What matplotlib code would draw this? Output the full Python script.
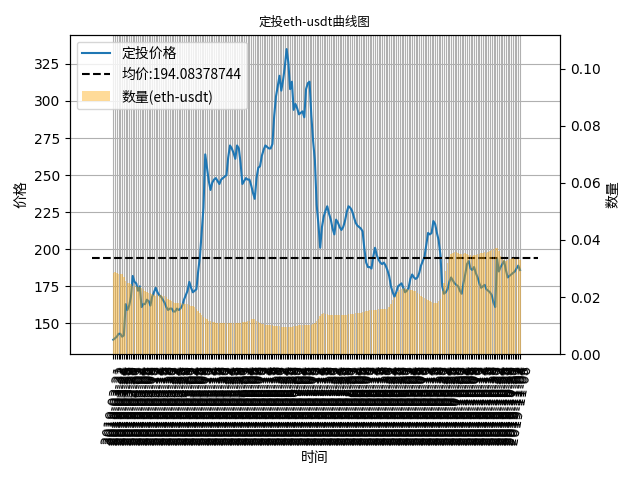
import matplotlib
matplotlib.use("Agg")
import matplotlib.pyplot as plt
import pandas as pd

plt.rcParams['font.family'] = ['DejaVu Sans']
CJK = ['Noto Sans CJK SC', 'DejaVu Sans']

# ---- data ----
dates = pd.date_range('2019-03-21', periods=231, freq='D').strftime('%Y-%m-%d').tolist()

prices = [
    139, 140, 141, 143, 143, 141, 142, 163, 159, 162,
    168, 182, 178, 177, 172, 175, 161, 163, 163, 166,
    165, 162, 168, 171, 174, 171, 169, 168, 166, 164,
    161, 159, 160, 160, 158, 158, 160, 159, 160, 162,
    166, 169, 172, 178, 174, 171, 172, 173, 185, 195,
    212, 228, 264, 255, 246, 240, 245, 247, 248, 246,
    244, 247, 248, 249, 250, 262, 270, 268, 265, 261,
    270, 268, 258, 244, 246, 248, 247, 247, 243, 238,
    234, 248, 255, 256, 263, 267, 270, 269, 268, 268,
    271, 290, 303, 310, 317, 307, 314, 323, 335, 326,
    308, 313, 294, 298, 295, 291, 292, 293, 289, 308,
    312, 313, 290, 273, 260, 230, 217, 201, 215, 222,
    226, 229, 224, 220, 214, 210, 220, 218, 215, 213,
    215, 219, 225, 229, 228, 226, 222, 218, 216, 215,
    214, 212, 200, 191, 188, 188, 187, 195, 201, 196,
    193, 191, 190, 191, 189, 186, 182, 175, 171, 168,
    171, 175, 176, 177, 174, 171, 172, 174, 180, 183,
    181, 180, 181, 184, 189, 192, 195, 203, 211, 210,
    211, 219, 217, 211, 206, 196, 175, 170, 171, 173,
    178, 181, 179, 177, 176, 175, 172, 170, 177, 183,
    190, 192, 187, 186, 188, 184, 181, 177, 174, 175,
    176, 173, 172, 171, 169, 164, 161, 194, 185, 188,
    190, 192, 186, 181, 182, 183, 184, 185, 187, 189,
    186,
]

quantities = [
    .0285, .0288, .0286, .0282, .0280, .0281, .0270, .0255, .0250, .0248,
    .0245, .0240, .0240, .0238, .0236, .0235, .0232, .0228, .0222, .0218,
    .0215, .0214, .0212, .0208, .0205, .0206, .0208, .0207, .0205, .0203,
    .0200, .0195, .0190, .0186, .0183, .0181, .0180, .0179, .0178, .0178,
    .0177, .0176, .0175, .0172, .0170, .0168, .0165, .0160, .0152, .0145,
    .0138, .0132, .0128, .0122, .0118, .0116, .0113, .0112, .0111, .0111,
    .0110, .0110, .0111, .0111, .0110, .0109, .0108, .0108, .0109, .0109,
    .0108, .0108, .0110, .0112, .0113, .0114, .0115, .0118, .0122, .0124,
    .0122, .0118, .0114, .0110, .0107, .0105, .0104, .0103, .0103, .0102,
    .0101, .0100, .0099, .0098, .0098, .0097, .0097, .0096, .0096, .0096,
    .0097, .0097, .0098, .0099, .0100, .0101, .0102, .0102, .0102, .0101,
    .0101, .0102, .0104, .0106, .0110, .0116, .0125, .0133, .0140, .0146,
    .0142, .0140, .0139, .0138, .0137, .0137, .0138, .0137, .0136, .0136,
    .0137, .0138, .0139, .0140, .0141, .0142, .0142, .0143, .0143, .0144,
    .0145, .0147, .0149, .0151, .0153, .0154, .0155, .0155, .0156, .0156,
    .0157, .0157, .0158, .0158, .0159, .0160, .0165, .0175, .0190, .0200,
    .0210, .0218, .0225, .0230, .0232, .0230, .0228, .0226, .0225, .0224,
    .0222, .0220, .0215, .0210, .0205, .0200, .0198, .0195, .0190, .0185,
    .0182, .0180, .0178, .0180, .0185, .0195, .0220, .0250, .0290, .0320,
    .0340, .0350, .0355, .0358, .0357, .0355, .0352, .0350, .0352, .0355,
    .0352, .0348, .0346, .0345, .0346, .0348, .0350, .0352, .0355, .0356,
    .0357, .0356, .0358, .0362, .0366, .0370, .0373, .0371, .0360, .0345,
    .0335, .0330, .0328, .0330, .0332, .0335, .0336, .0335, .0333, .0332,
    .0330,
]

avg_price = 194.08378744

n = len(prices)
xs = list(range(n))

fig = plt.figure(figsize=(6.4, 4.8), dpi=100)
ax1 = fig.add_subplot(111)
fig.subplots_adjust(left=0.109, right=0.875, top=0.928, bottom=0.262)

l1, = ax1.plot(xs, prices, color='#1f77b4', label='定投价格')
l2 = ax1.hlines(avg_price, -12, n - 1 + 10, colors='black', linestyles='--',
                label='均价:%s' % avg_price)
ax1.set_ylabel('价格', family=CJK, fontsize=10)
ax1.set_xlabel('时间', family=CJK, fontsize=10)
ax1.set_xticks(xs)
ax1.set_xticklabels(dates, rotation=80)
ax1.grid(True)

ax2 = ax1.twinx()
b = ax2.bar(xs, quantities, color='orange', alpha=0.4, label='数量(eth-usdt)')
ax2.set_ylim(0, max(quantities) * 3)
ax2.set_ylabel('数量', family=CJK, fontsize=10)

ax1.set_title('定投eth-usdt曲线图', family=CJK, fontsize=9)
leg = ax2.legend(handles=[l1, l2, b], loc='upper left', prop={'family': CJK, 'size': 10})

fig.savefig('out.png', dpi=100)
